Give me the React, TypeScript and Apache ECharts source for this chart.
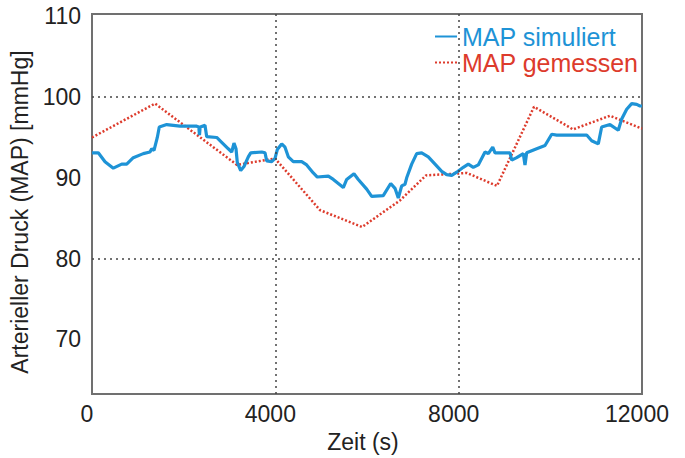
import React, { useEffect, useRef } from "react";
import * as echarts from "echarts";

const simTime = [0, 137, 284, 465, 648, 757, 901, 1119, 1265, 1303, 1353, 1425, 1468, 1630, 1920, 2284, 2330, 2345, 2360, 2465, 2503, 2721, 2830, 2974, 3048, 3098, 3142, 3170, 3244, 3316, 3410, 3463, 3703, 3775, 3812, 3921, 3993, 4043, 4139, 4211, 4283, 4392, 4575, 4684, 4828, 4916, 5156, 5265, 5483, 5557, 5716, 5810, 5993, 6102, 6355, 6517, 6611, 6683, 6757, 6829, 6866, 6975, 7084, 7193, 7337, 7484, 7630, 7739, 7848, 7957, 8101, 8210, 8319, 8428, 8575, 8647, 8743, 8793, 9120, 9157, 9266, 9410, 9447, 9484, 9702, 9884, 10030, 10139, 10793, 10902, 11046, 11120, 11302, 11483, 11557, 11666, 11775, 11884, 11956, 12000];
const simMap = [93.1, 93.1, 92.0, 91.2, 91.7, 91.7, 92.5, 93.0, 93.2, 93.6, 93.4, 95.0, 96.3, 96.6, 96.4, 96.4, 96.3, 95.3, 96.3, 96.5, 95.1, 95.0, 94.4, 93.6, 93.2, 94.3, 93.6, 91.9, 90.9, 91.4, 92.6, 93.1, 93.2, 93.1, 92.1, 92.0, 92.4, 93.5, 94.2, 93.8, 92.6, 92.0, 92.0, 91.6, 90.6, 90.1, 90.2, 89.8, 88.8, 89.8, 90.5, 89.8, 88.6, 87.7, 87.8, 89.3, 88.7, 87.5, 89.0, 89.2, 90.0, 91.7, 93.0, 93.1, 92.6, 91.7, 90.8, 90.4, 90.3, 90.7, 91.3, 91.7, 91.3, 91.6, 93.2, 93.0, 93.8, 93.1, 93.1, 92.2, 92.5, 93.0, 91.6, 93.1, 93.6, 94.0, 95.4, 95.3, 95.3, 94.6, 94.2, 96.3, 96.6, 95.9, 97.3, 98.5, 99.2, 99.1, 98.9, 98.9];

const measTime = [0, 1375, 3164, 3993, 4975, 5891, 6720, 7287, 8182, 8836, 9644, 10495, 11302, 12000];
const measMap = [95.0, 99.2, 91.6, 92.4, 86.0, 83.9, 87.2, 90.3, 90.6, 89.0, 98.8, 96.0, 97.7, 96.1];

const xTicks = [0, 4000, 8000, 12000];
const yTicks = [70, 80, 90, 100, 110];
const gridY = [80, 100];
const gridX = [4000, 8000];

const SIM = "MAP simuliert";
const MEAS = "MAP gemessen";

export default function App() {
  const ref = useRef<HTMLDivElement>(null);
  useEffect(() => {
    if (!ref.current) return;
    const chart = echarts.init(ref.current, null, { renderer: "svg" });
    const font = "'Liberation Sans', Arial, sans-serif";
    chart.setOption({
      animation: false,
      backgroundColor: "#ffffff",
      textStyle: { fontFamily: font },
      grid: {
        left: 92,
        top: 14,
        width: 550,
        height: 389,
        show: true,
        borderColor: "#707070",
        borderWidth: 2,
        backgroundColor: "transparent",
      },
      legend: {
        orient: "vertical",
        left: 434,
        top: 24,
        padding: 0,
        itemWidth: 22,
        itemHeight: 10,
        itemGap: 1,
        itemStyle: { opacity: 0 },
        data: [
          { name: SIM, textStyle: { color: "#1e93d6" } },
          { name: MEAS, textStyle: { color: "#dd3b2c" } },
        ],
        textStyle: { fontSize: 25, fontFamily: font },
      },
      xAxis: {
        type: "value",
        min: 0,
        max: 12000,
        interval: 4000,
        axisLine: { show: false },
        axisTick: { show: false },
        splitLine: { show: false },
        axisLabel: {
          show: true,
          customValues: xTicks,
          formatter: (v: number) => String(v),
          fontSize: 23,
          color: "#222",
          margin: 8,
          padding: [0, 10, 0, 0],
        },
        name: "Zeit (s)",
        nameLocation: "middle",
        nameGap: 27,
        nameTextStyle: { fontSize: 23, color: "#222", padding: [0, 8, 0, 0] },
      },
      yAxis: {
        type: "value",
        min: 63.2,
        max: 110.3,
        axisLine: { show: false },
        axisTick: { show: false, customValues: yTicks },
        splitLine: { show: false },
        axisLabel: {
          customValues: yTicks,
          fontSize: 23,
          color: "#222",
          margin: 11,
        },
        name: "Arterieller Druck (MAP) [mmHg]",
        nameLocation: "middle",
        nameGap: 58,
        nameTextStyle: { fontSize: 23, color: "#222", padding: [0, 16, 0, 0] },
      },
      series: [
        {
          name: "grid",
          type: "line",
          data: [],
          z: 1,
          silent: true,
          markLine: {
            silent: true,
            symbol: ["none", "none"],
            label: { show: false },
            lineStyle: { type: [2, 4], color: "#444", width: 1.5 },
            data: [
              ...gridY.map((v) => ({ yAxis: v })),
              ...gridX.map((v) => ({ xAxis: v })),
            ],
          },
        },
        {
          name: MEAS,
          type: "line",
          z: 3,
          symbol: "none",
          data: measTime.map((t, i) => [t, measMap[i]]),
          lineStyle: { color: "#dd3b2c", width: 2.5, type: [2, 2] },
          itemStyle: { color: "#dd3b2c" },
        },
        {
          name: SIM,
          type: "line",
          z: 4,
          symbol: "none",
          data: simTime.map((t, i) => [t, simMap[i]]),
          lineStyle: { color: "#1e93d6", width: 3.2 },
          itemStyle: { color: "#1e93d6" },
        },
      ],
    });
    return () => chart.dispose();
  }, []);
  return <div ref={ref} style={{ width: 685, height: 458, position: "absolute", left: 0, top: 0 }} />;
}
